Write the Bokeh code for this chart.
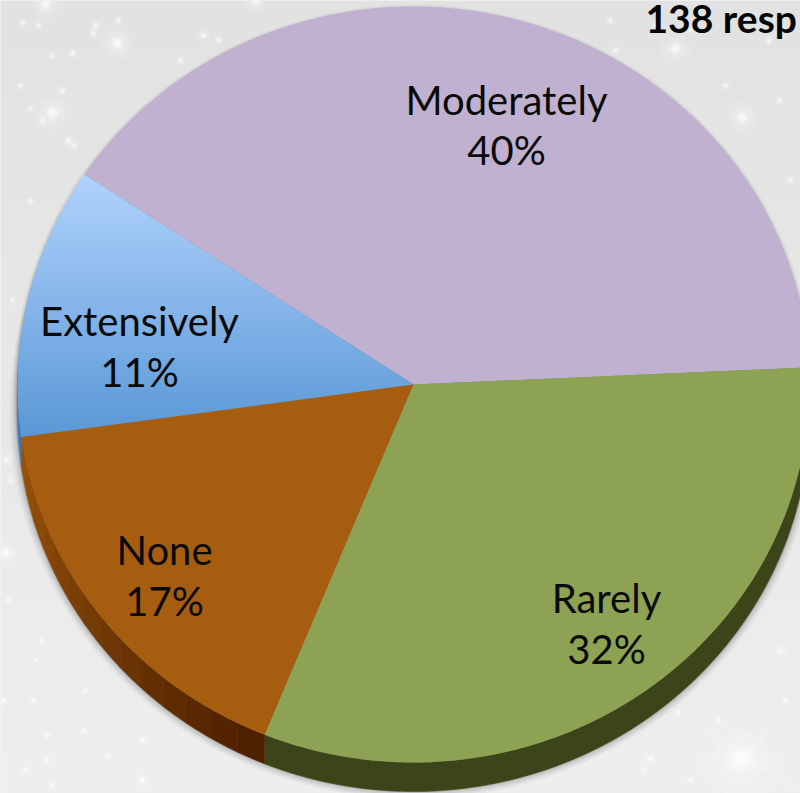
import math
from bokeh.plotting import figure
from bokeh.models import Range1d
from bokeh.core.properties import value
from bokeh.embed import file_html
from bokeh.resources import INLINE

# ---- data ----
categories = ["Moderately", "Extensively", "None", "Rarely"]
percents = [40, 11, 17, 32]              # printed labels
shares = [39.9, 11.6, 16.65, 31.85]      # slice sizes
title_text = "138 resp"

# ---- sparkles in the background picture ----
star_x = [117, 52, 45, 255, 5, 740, 675, 742, 22, 38, 93, 72, 51, 203, 218, 118, 180, 95, 62, 74, 20, 30, 42, 68, 104,
          41, 6, 3, 36, 47, 33, 85, 46, 52, 142, 107, 142, 83, 780, 700, 785, 718, 643, 678, 650, 779, 725, 690, 768,
          615, 790, 760, 12, 60, 30, 10, 35, 770, 610, 780, 25, 8, 690, 655]
star_y = [43, 112, 4, 0, 552, 758, 48, 117, 22, 25, 33, 53, 55, 35, 40, 20, 60, 25, 90, 145, 85, 108, 120, 140, 175,
          640, 460, 700, 660, 735, 700, 690, 760, 785, 780, 755, 740, 730, 650, 680, 700, 720, 770, 712, 758, 100, 85,
          30, 40, 50, 180, 230, 300, 250, 200, 480, 520, 300, 20, 440, 770, 600, 780, 25]
star_r = [7, 7, 6, 5, 6, 16, 6, 6, 2, 2, 2.5, 2.5, 2, 2.5, 2, 2, 2, 2, 2.5, 2, 2, 2, 2, 2.5, 2,
          2, 2.5, 2, 2, 2, 2, 2, 2, 2, 3, 2, 3, 2, 3, 2, 2, 2, 2, 2, 3, 2, 2, 2, 2, 2, 2, 2, 2, 2, 2, 2, 2, 2, 2, 2, 2, 2, 2, 2]
ray_x = [[685, 795], [725, 785]]
ray_y = [[715, 790], [793, 700]]

# ---- appearance ----
CX, CY, RX, RY, DEPTH, START = 413, 384, 396, 378, 29, 2.6
top_colors = {"Moderately": "#bfb1cf", "None": "#a75d0f", "Rarely": "#8da253"}
label_pos = {"Moderately": (506, 99, 149), "Extensively": (139, 320, 371), "None": (164, 549, 600), "Rarely": (606, 597, 648)}


def pt(deg, dy=0.0, grow=0.0):
    a = math.radians(deg)
    return CX + (RX + grow) * math.cos(a), CY - (RY + grow) * math.sin(a) + dy


def arc(a0, a1, dy=0.0, grow=0.0):
    n = max(2, int(abs(a1 - a0) * 2))
    return [pt(a0 + (a1 - a0) * i / n, dy, grow) for i in range(n + 1)]


def mix(c0, c1, t):
    v = [round(c0[i] + (c1[i] - c0[i]) * t) for i in range(3)]
    return "#%02x%02x%02x" % tuple(v)


def clip_band(poly, y0, y1):
    def clip(points, inside, cut):
        out = []
        for i, q in enumerate(points):
            p0 = points[i - 1]
            if inside(q):
                if not inside(p0):
                    out.append(cut(p0, q))
                out.append(q)
            elif inside(p0):
                out.append(cut(p0, q))
        return out

    def at(y):
        return lambda a, b: (a[0] + (b[0] - a[0]) * (y - a[1]) / (b[1] - a[1]), y)

    res = clip(poly, lambda q: q[1] >= y0, at(y0))
    if res:
        res = clip(res, lambda q: q[1] <= y1, at(y1))
    return res


# slice angles from the values
spans = {}
t = START
for c, v in zip(categories, shares):
    spans[c] = (t, t + v * 3.6)
    t += v * 3.6

W, H = 800, 793
p = figure(width=W, height=H, output_backend="svg", toolbar_location=None,
           x_range=Range1d(0, 800), y_range=Range1d(793, 0), min_border=0,
           background_fill_color="#e8e8e8", border_fill_color="#e8e8e8", outline_line_color=None)
p.xaxis.visible = False
p.yaxis.visible = False
p.grid.visible = False

# background shading
bands = 16
for i in range(bands):
    p.quad(left=0, right=810, top=i * 50, bottom=(i + 1) * 50 + 1,
           fill_color=mix((226, 226, 226), (238, 238, 238), i / (bands - 1)), line_color=None)

# sparkles
for grow, alpha in [(2.6, 0.08), (1.7, 0.12), (1.0, 0.22), (0.65, 0.30), (0.35, 0.45)]:
    p.scatter(star_x, star_y, size=[2 * r * grow + 1 for r in star_r], marker="circle",
              fill_color="white", fill_alpha=alpha, line_color=None)
p.multi_line(ray_x, ray_y, line_color="white", line_alpha=0.22, line_width=2)

# soft shadow
for grow, alpha in [(8, 0.05), (6, 0.07), (4, 0.10), (2, 0.16), (1, 0.2)]:
    pts = arc(0, 360, DEPTH * 0.98, grow)
    p.patch([q[0] for q in pts], [q[1] for q in pts], fill_color="#555555", fill_alpha=alpha, line_color=None)
    pts = arc(0, 360, 2, grow * 0.5)
    p.patch([q[0] for q in pts], [q[1] for q in pts], fill_color="#555555", fill_alpha=alpha * 0.7, line_color=None)


def side(a0, a1, color):
    up = arc(a0, a1)
    down = arc(a1, a0, DEPTH)
    poly = up + down
    p.patch([q[0] for q in poly], [q[1] for q in poly], fill_color=color, line_color=color, line_width=0.5)


# pie side: blue sliver, shaded brown, dark green
side(178, spans["Extensively"][1], "#3f7cbc")
a0, a1 = spans["None"]
steps = 14
for i in range(steps):
    side(a0 + (a1 - a0) * i / steps, a0 + (a1 - a0) * (i + 1) / steps,
         mix((150, 82, 10), (78, 32, 0), i / (steps - 1)))
side(spans["Rarely"][0], 362.6, "#3c4519")

# pie top
for c in categories:
    a0, a1 = spans[c]
    poly = [(CX, CY)] + arc(a0, a1)
    if c == "Extensively":
        ys = [q[1] for q in poly]
        y_top, y_bot = min(ys), max(ys)
        y = y_top
        while y < y_bot:
            piece = clip_band(poly, y, y + 4)
            if piece:
                col = mix((176, 210, 252), (90, 151, 214), (y - y_top) / (y_bot - y_top))
                p.patch([q[0] for q in piece], [q[1] for q in piece], fill_color=col, line_color=None)
            y += 3
    else:
        p.patch([q[0] for q in poly], [q[1] for q in poly], fill_color=top_colors[c], line_color=None)

# labels
font = value("Lato")
for c, v in zip(categories, percents):
    x, y1, y2 = label_pos[c]
    p.text([x], [y1], text=[c], text_font=font, text_font_size="40px", text_color="#0a0a0a",
           text_align="center", text_baseline="middle")
    p.text([x], [y2], text=[f"{v}%"], text_font=font, text_font_size="40px", text_color="#0a0a0a",
           text_align="center", text_baseline="middle")

p.text([645], [17], text=[title_text], text_font=font, text_font_style="bold", text_font_size="39px",
       text_color="#050505", text_align="left", text_baseline="middle")

open("out.html", "w").write(file_html(p, INLINE))
